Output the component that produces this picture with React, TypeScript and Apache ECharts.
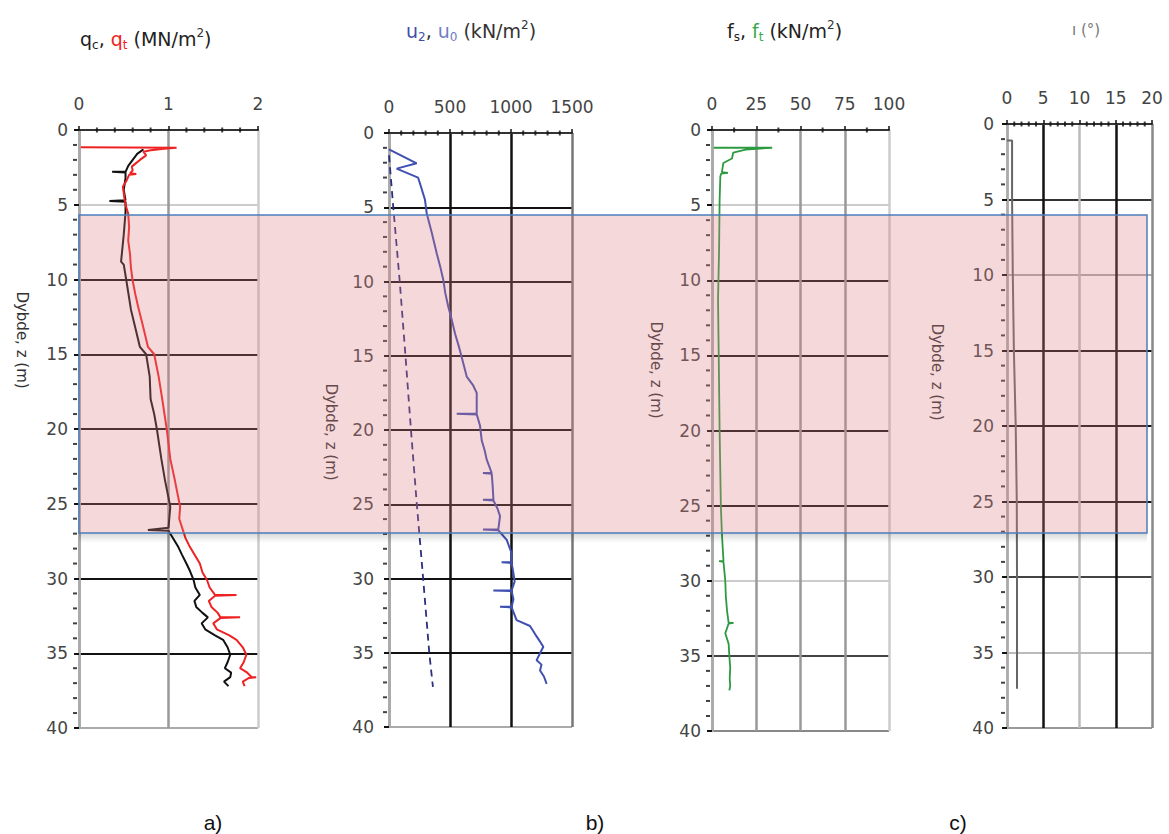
import React, { useEffect, useRef } from 'react';
import * as echarts from 'echarts';

const FONT = 'DejaVu Sans';

// ---- Data: [depth z (m), value] ----
// Panel a: cone resistance q_c (black) and q_t (red), MN/m2
const qcProfile = [
  [1.3, 0.72], [1.6, 0.65], [2.0, 0.6], [2.4, 0.55], [2.8, 0.52], [2.8, 0.37], [2.85, 0.52],
  [3.2, 0.52], [4.0, 0.5], [4.7, 0.52], [4.75, 0.34], [4.8, 0.52], [5.5, 0.52], [7.0, 0.5],
  [8.8, 0.47], [9.0, 0.5], [10.1, 0.53], [12.0, 0.58], [14.5, 0.68], [15.0, 0.75], [16.5, 0.79],
  [18.0, 0.8], [19.0, 0.84], [20.0, 0.87], [22.0, 0.92], [23.4, 0.96], [25.2, 1.02], [26.6, 1.0],
  [26.75, 0.77], [26.8, 1.0], [27.9, 1.11], [28.4, 1.15], [29.0, 1.2], [29.5, 1.24], [30.1, 1.28],
  [30.6, 1.3], [31.1, 1.35], [31.5, 1.29], [31.9, 1.31], [32.3, 1.38], [32.6, 1.44], [33.0, 1.37],
  [33.4, 1.41], [33.8, 1.52], [34.1, 1.61], [34.6, 1.66], [35.1, 1.69], [35.6, 1.66], [36.0, 1.63],
  [36.3, 1.7], [36.6, 1.69], [36.9, 1.62], [37.2, 1.67]
];
const qtProfile = [
  [1.15, 0.02], [1.18, 1.09], [1.25, 0.95], [1.35, 0.8], [1.45, 0.72], [1.7, 0.75], [2.0, 0.68],
  [2.3, 0.62], [2.45, 0.59], [2.7, 0.6], [2.9, 0.57], [2.95, 0.64], [3.0, 0.56], [3.4, 0.53],
  [3.8, 0.49], [4.2, 0.5], [4.7, 0.51], [5.2, 0.53], [5.6, 0.55], [6.5, 0.56], [7.4, 0.55],
  [8.3, 0.57], [9.2, 0.58], [10.1, 0.6], [11.0, 0.63], [11.8, 0.66], [13.0, 0.71], [14.5, 0.77],
  [15.0, 0.84], [16.5, 0.89], [18.0, 0.93], [20.0, 0.98], [22.0, 1.02], [23.4, 1.07], [25.2, 1.13],
  [26.0, 1.12], [26.75, 1.16], [27.3, 1.19], [27.9, 1.24], [28.5, 1.3], [29.0, 1.35], [29.6, 1.38],
  [30.1, 1.43], [30.6, 1.46], [31.1, 1.52], [31.1, 1.76], [31.15, 1.52], [31.5, 1.45], [31.9, 1.48],
  [32.3, 1.55], [32.6, 1.58], [32.6, 1.8], [32.65, 1.58], [33.0, 1.5], [33.4, 1.54], [33.8, 1.68],
  [34.1, 1.76], [34.6, 1.83], [35.1, 1.87], [35.6, 1.84], [36.0, 1.8], [36.3, 1.88], [36.6, 1.93],
  [36.6, 1.98], [36.65, 1.9], [36.9, 1.83], [37.2, 1.85]
];

// Panel b: pore pressure u_2 (blue) and hydrostatic u_0 (dashed), kN/m2
const u2Profile = [
  [1.1, 0], [2.04, 227], [2.4, 63], [3.0, 238], [3.4, 254], [4.5, 295], [5.4, 309], [6.7, 350],
  [8.1, 391], [9.0, 420], [9.9, 445], [10.8, 462], [11.7, 486], [12.6, 515], [13.5, 541],
  [14.3, 570], [15.1, 596], [16.4, 637], [17.0, 690], [17.5, 719], [18.9, 719], [18.9, 555],
  [18.95, 719], [19.7, 746], [20.7, 760], [21.4, 785], [22.0, 801], [22.9, 842], [22.9, 770],
  [22.95, 842], [23.8, 850], [24.7, 856], [24.7, 770], [24.75, 856], [25.3, 890], [25.8, 910],
  [26.7, 896], [26.7, 770], [26.75, 896], [27.4, 965], [28.3, 1005], [28.9, 1005], [28.9, 923],
  [28.95, 1005], [29.6, 1019], [30.2, 1030], [30.8, 1005], [30.8, 855], [30.85, 1005],
  [31.4, 1020], [31.9, 1005], [31.9, 910], [31.95, 1005], [32.8, 1046], [33.2, 1156], [33.9, 1210],
  [34.6, 1265], [35.0, 1240], [35.5, 1210], [35.8, 1250], [36.2, 1238], [36.6, 1270], [37.1, 1292]
];
const u0Profile = [
  [1.5, 0], [5, 35], [10, 88], [15, 135], [20, 180], [25, 228], [30, 280], [35, 330], [37.3, 360]
];

// Panel c: sleeve friction f_t (green), kN/m2
const ftProfile = [
  [1.18, 1], [1.18, 34], [1.3, 19], [1.5, 12], [1.9, 11.3], [2.2, 6.4], [2.8, 5.6], [2.85, 9],
  [2.9, 5.2], [3.1, 4.7], [4.7, 4.3], [8.0, 4.0], [11.3, 3.4], [15.0, 3.8], [20.0, 4.3],
  [25.0, 5.0], [26.9, 5.6], [28.7, 6.5], [28.7, 4.0], [28.75, 6.5], [30.0, 7.5], [31.0, 7.8],
  [32.0, 8.5], [32.8, 9.4], [32.8, 12.2], [32.85, 9.4], [33.5, 7.5], [34.2, 9.4], [35.0, 9.8],
  [35.8, 10.3], [36.5, 10.0], [37.0, 10.3], [37.3, 9.8]
];

// Panel d: inclination i (deg)
const incProfile = [
  [1.1, 0], [1.1, 0.7], [5, 0.7], [10, 0.8], [15, 0.95], [20, 1.2], [25, 1.35], [30, 1.38], [37.4, 1.38]
];

// Axis ranges and tick positions
const depthMin = 0;
const depthMax = 40;
const depthStep = 5;
const depthMinorTicks = [
  1, 2, 3, 4, 6, 7, 8, 9, 11, 12, 13, 14, 16, 17, 18, 19, 21, 22, 23, 24,
  26, 27, 28, 29, 31, 32, 33, 34, 36, 37, 38, 39
];
const xScales = [
  { min: 0, max: 2, interval: 1 },
  { min: 0, max: 1500, interval: 500 },
  { min: 0, max: 100, interval: 25 },
  { min: 0, max: 20, interval: 5 }
];
const xMinorTicks = [
  [0.2, 0.4, 0.6, 0.8, 1.2, 1.4, 1.6, 1.8],
  [100, 200, 300, 400, 600, 700, 800, 900, 1100, 1200, 1300, 1400],
  [12.5, 37.5, 62.5, 87.5],
  [1, 2, 3, 4, 6, 7, 8, 9, 11, 12, 13, 14, 16, 17, 18, 19]
];

const toXY = (p: number[][]) => p.map(([z, v]) => [v, z]);

export default function App() {
  const ref = useRef<HTMLDivElement>(null);

  useEffect(() => {
    if (!ref.current) return;
    const chart = echarts.init(ref.current, undefined, { renderer: 'svg' });

    const grids = [
      { left: 79, top: 130, width: 179, height: 598 },
      { left: 389, top: 133, width: 183, height: 594 },
      { left: 712, top: 130, width: 177, height: 601 },
      { left: 1007, top: 124, width: 145, height: 604 }
    ];

    const xSplitColors = [
      ['#999', '#999', '#ccc'],
      ['#999', '#111', '#111', '#777'],
      ['#999', '#999', '#999', '#999', '#ccc'],
      ['#bbb', '#111', '#bbb', '#111', '#888']
    ];
    const ySplitColors = [
      ['#222', '#ccc', '#111', '#111', '#111', '#111', '#111', '#111', '#aaa'],
      ['#222', '#111', '#111', '#111', '#111', '#111', '#111', '#111', '#aaa'],
      ['#222', '#ccc', '#111', '#111', '#111', '#111', '#ccc', '#444', '#888'],
      ['#222', '#333', '#aaa', '#111', '#111', '#111', '#444', '#bbb', '#999']
    ];
    const yLabelMargin = [11, 15, 11, 13];
    const plain = (v: number) => String(v);

    const xAxis = xScales.map((s, i) => ({
      type: 'value',
      gridIndex: i,
      position: 'top',
      min: s.min,
      max: s.max,
      interval: s.interval,
      axisLine: { show: true, lineStyle: { color: '#333', width: 2 } },
      axisTick: { show: true, length: 4, lineStyle: { color: '#111', width: 1.5 } },
      axisLabel: { color: '#444', fontSize: 17, fontFamily: FONT, margin: 18, formatter: plain },
      splitLine: { show: true, lineStyle: { color: xSplitColors[i], width: 2.5 } }
    }));

    const yAxis = grids.map((_, i) => ({
      type: 'value',
      gridIndex: i,
      inverse: true,
      min: depthMin,
      max: depthMax,
      interval: depthStep,
      axisLine: { show: true, lineStyle: { color: '#aaa', width: 2.5 } },
      axisTick: { show: true, length: 5, lineStyle: { color: '#111', width: 2 } },
      axisLabel: { color: '#444', fontSize: 17, fontFamily: FONT, margin: yLabelMargin[i], formatter: plain },
      splitLine: { show: true, lineStyle: { color: ySplitColors[i], width: 2 } }
    }));

    const line = (data: number[][], idx: number, color: string, width: number, type: any = 'solid') => ({
      type: 'line',
      xAxisIndex: idx,
      yAxisIndex: idx,
      data: toXY(data),
      showSymbol: false,
      symbol: 'none',
      lineStyle: { color, width, type },
      z: 5
    });

    // minor ticks drawn as small rect symbols placed through the axes' scales
    const yTickSeries = grids.map((_, i) => ({
      type: 'scatter',
      xAxisIndex: i,
      yAxisIndex: i,
      clip: false,
      silent: true,
      symbol: 'rect',
      symbolSize: [4, 2],
      symbolOffset: [-4, 0],
      itemStyle: { color: '#111' },
      data: depthMinorTicks.map((z) => [xScales[i].min, z]),
      z: 6
    }));
    const xTickSeries = grids.map((_, i) => ({
      type: 'scatter',
      xAxisIndex: i,
      yAxisIndex: i,
      clip: false,
      silent: true,
      symbol: 'rect',
      symbolSize: [2, 5],
      itemStyle: { color: '#111' },
      data: xMinorTicks[i].map((v) => [v, depthMin]),
      z: 6
    }));

    const sub = (fill: string) => ({ fill, fontSize: 12, fontFamily: FONT, verticalAlign: 'bottom', lineHeight: 12 });
    const main = (fill: string) => ({ fill, fontSize: 19, fontFamily: FONT, lineHeight: 24 });
    const sup = { fill: '#333', fontSize: 12, fontFamily: FONT, verticalAlign: 'top', lineHeight: 12 };

    const titleText = (x: number, y: number, text: string, rich: any) => ({
      type: 'text',
      x,
      y,
      z: 120,
      style: { text, rich, align: 'left', verticalAlign: 'middle', fill: '#333', font: `19px "${FONT}"` }
    });

    const axisName = (x: number, y: number) => ({
      type: 'text',
      x,
      y,
      rotation: -Math.PI / 2,
      z: 50,
      style: {
        text: 'Dybde, z (m)',
        fill: '#333',
        fontSize: 15,
        fontFamily: FONT,
        align: 'center',
        verticalAlign: 'middle'
      }
    });

    const panelLabel = (x: number, text: string) => ({
      type: 'text',
      x,
      y: 822,
      z: 50,
      style: {
        text,
        fill: '#111',
        fontSize: 21,
        fontFamily: 'Liberation Sans',
        align: 'center',
        verticalAlign: 'middle'
      }
    });

    chart.setOption({
      animation: false,
      backgroundColor: '#fff',
      grid: grids.map((g) => ({ ...g, containLabel: false })),
      xAxis,
      yAxis,
      series: [
        line(qcProfile, 0, '#111', 2),
        line(qtProfile, 0, '#ee2222', 2),
        line(u0Profile, 1, '#2a2f7e', 1.8, [7, 5]),
        line(u2Profile, 1, '#3f50b0', 2),
        line(ftProfile, 2, '#2e9a40', 1.8),
        line(incProfile, 3, '#666', 2),
        ...yTickSeries,
        ...xTickSeries
      ],
      graphic: [
        {
          type: 'rect',
          z: 100,
          shape: { x: 79, y: 533, width: 1068, height: 10 },
          style: {
            fill: {
              type: 'linear', x: 0, y: 0, x2: 0, y2: 1,
              colorStops: [
                { offset: 0, color: 'rgba(0,0,0,0.16)' },
                { offset: 1, color: 'rgba(0,0,0,0)' }
              ]
            }
          }
        },
        {
          type: 'rect',
          z: 101,
          shape: { x: 79, y: 215, width: 1068, height: 318 },
          style: { fill: 'rgba(221,125,131,0.3)', stroke: '#4a7ebb', lineWidth: 1.5 }
        },
        titleText(80, 39, '{k|q}{ks|c}{k|, }{r|q}{rs|t}{k| (MN/m}{sp|2}{k|)}', {
          k: main('#222'), ks: sub('#222'), r: main('#ee2222'), rs: sub('#ee2222'), sp: sup
        }),
        titleText(406, 31, '{b|u}{bs|2}{k|, }{l|u}{ls|0}{k| (kN/m}{sp|2}{k|)}', {
          k: main('#333'), b: main('#3d4fa8'), bs: sub('#3d4fa8'), l: main('#6f7cc4'), ls: sub('#6f7cc4'), sp: sup
        }),
        titleText(727, 31, '{k|f}{ks|s}{k|, }{g|f}{gs|t}{k| (kN/m}{sp|2}{k|)}', {
          k: main('#222'), ks: sub('#222'), g: main('#3aa84a'), gs: sub('#3aa84a'), sp: sup
        }),
        titleText(1072, 30, '{k|ı (°)}', { k: { fill: '#777', fontSize: 15, fontFamily: FONT } }),
        axisName(22, 340),
        axisName(331, 432),
        axisName(656, 370),
        axisName(937, 372),
        panelLabel(213, 'a)'),
        panelLabel(595, 'b)'),
        panelLabel(958, 'c)')
      ]
    });

    return () => chart.dispose();
  }, []);

  return (
    <div
      ref={ref}
      style={{ position: 'fixed', left: 0, top: 0, width: 1169, height: 834, background: '#fff' }}
    />
  );
}
